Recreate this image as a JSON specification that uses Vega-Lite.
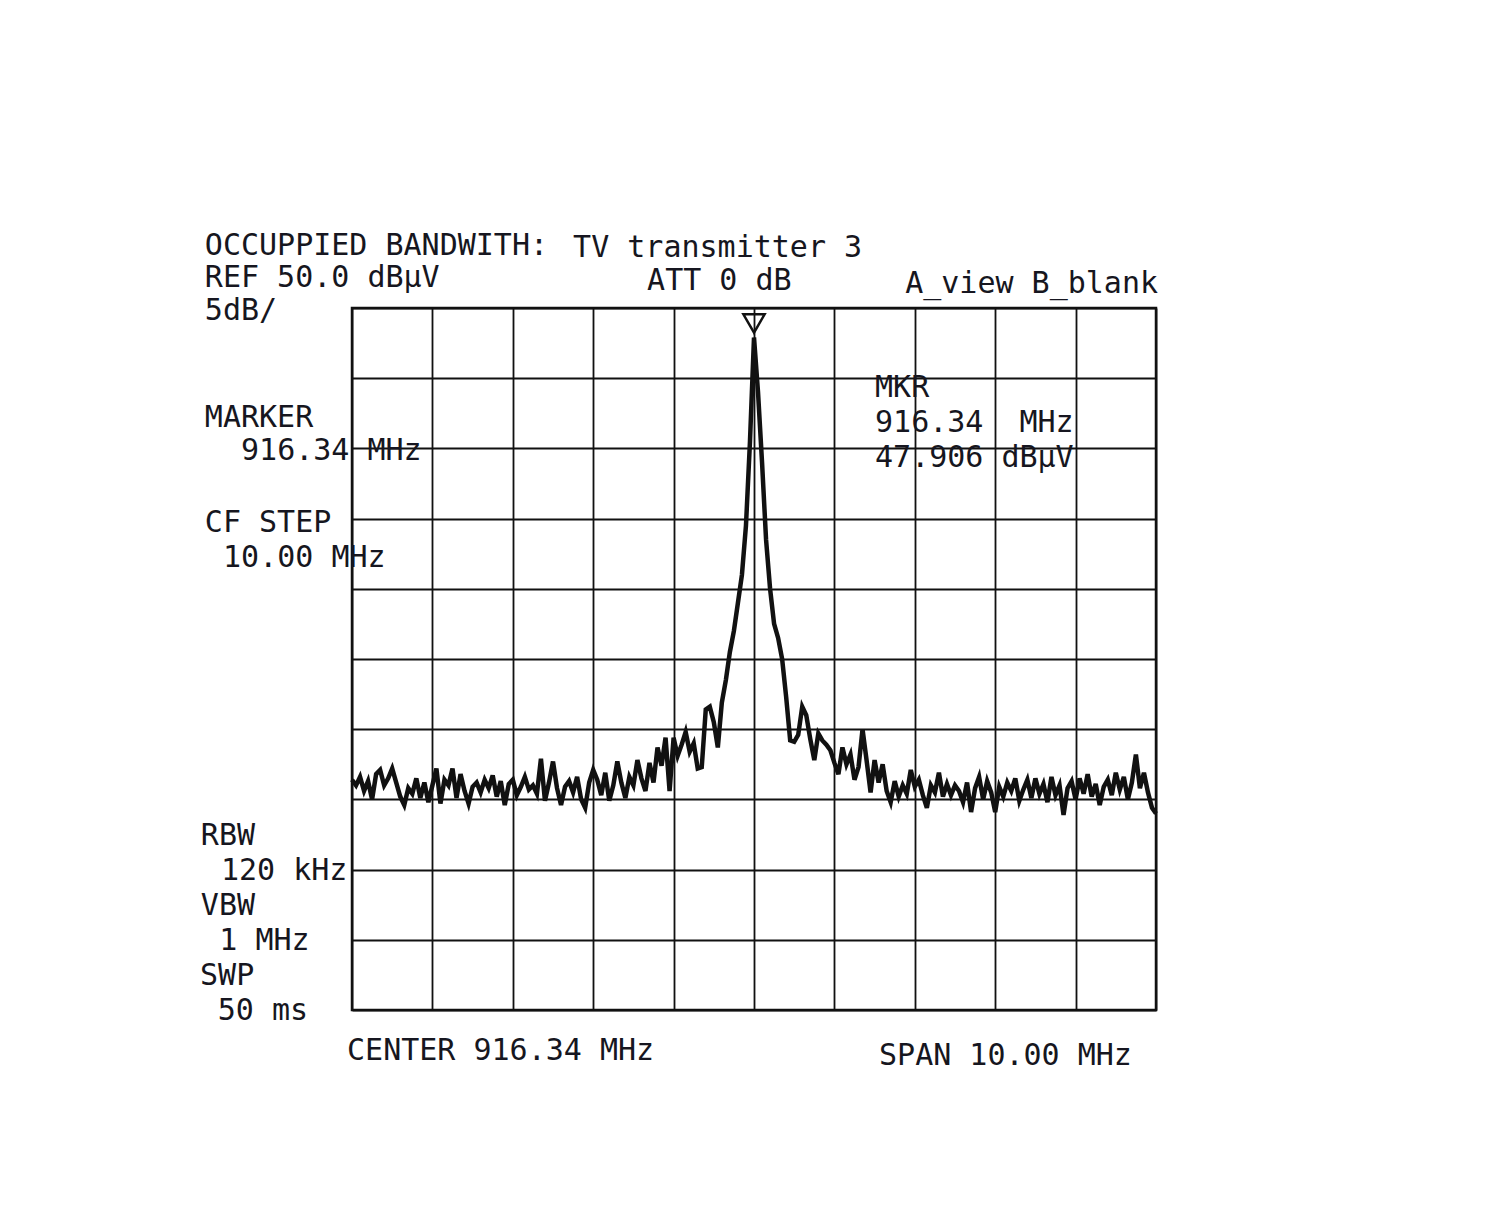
{
  "$schema": "https://vega.github.io/schema/vega-lite/v6.json",
  "width": 804,
  "height": 702,
  "autosize": {"type": "none"},
  "padding": {"left": 352, "top": 308, "right": 333, "bottom": 217},
  "background": "white",
  "config": {
    "view": {"stroke": "#111", "strokeWidth": 2.5},
    "axis": {"grid": true, "gridColor": "#111", "gridWidth": 1.8, "gridOpacity": 1, "labels": false, "ticks": false, "domain": false, "title": null}
  },
  "datasets": {
    "trace": [
      {"f":911.34,"db":16.4},{"f":911.39,"db":16.0},{"f":911.44,"db":16.6},{"f":911.49,"db":15.6},{"f":911.54,"db":16.3},
      {"f":911.59,"db":15.0},{"f":911.64,"db":16.8},{"f":911.69,"db":17.1},{"f":911.74,"db":16.0},{"f":911.79,"db":16.5},
      {"f":911.84,"db":17.2},{"f":911.89,"db":16.2},{"f":911.94,"db":15.2},{"f":911.99,"db":14.6},{"f":912.04,"db":15.8},
      {"f":912.09,"db":15.4},{"f":912.14,"db":16.5},{"f":912.19,"db":15.1},{"f":912.24,"db":16.2},{"f":912.29,"db":14.8},
      {"f":912.34,"db":16.0},{"f":912.39,"db":17.2},{"f":912.44,"db":14.7},{"f":912.49,"db":16.4},{"f":912.54,"db":16.0},
      {"f":912.59,"db":17.2},{"f":912.64,"db":15.1},{"f":912.69,"db":16.8},{"f":912.74,"db":15.6},{"f":912.79,"db":14.7},
      {"f":912.84,"db":15.9},{"f":912.89,"db":16.2},{"f":912.94,"db":15.5},{"f":912.99,"db":16.4},{"f":913.04,"db":15.8},
      {"f":913.09,"db":16.7},{"f":913.14,"db":15.2},{"f":913.19,"db":16.3},{"f":913.24,"db":14.6},{"f":913.29,"db":16.1},
      {"f":913.34,"db":16.4},{"f":913.39,"db":15.3},{"f":913.44,"db":15.9},{"f":913.49,"db":16.6},{"f":913.54,"db":15.7},
      {"f":913.59,"db":16.0},{"f":913.64,"db":15.4},{"f":913.69,"db":17.9},{"f":913.74,"db":14.9},{"f":913.79,"db":16.2},
      {"f":913.84,"db":17.7},{"f":913.89,"db":15.8},{"f":913.94,"db":14.6},{"f":913.99,"db":15.9},{"f":914.04,"db":16.3},
      {"f":914.09,"db":15.5},{"f":914.14,"db":16.6},{"f":914.19,"db":15.0},{"f":914.24,"db":14.4},{"f":914.29,"db":16.2},
      {"f":914.34,"db":17.1},{"f":914.39,"db":16.4},{"f":914.44,"db":15.3},{"f":914.49,"db":16.9},{"f":914.54,"db":14.9},
      {"f":914.59,"db":16.0},{"f":914.64,"db":17.7},{"f":914.69,"db":16.2},{"f":914.74,"db":15.1},{"f":914.79,"db":16.6},
      {"f":914.84,"db":16.0},{"f":914.89,"db":17.8},{"f":914.94,"db":16.5},{"f":914.99,"db":15.6},{"f":915.04,"db":17.6},
      {"f":915.09,"db":16.2},{"f":915.14,"db":18.7},{"f":915.19,"db":17.4},{"f":915.24,"db":19.4},{"f":915.29,"db":15.6},
      {"f":915.34,"db":19.4},{"f":915.39,"db":18.1},{"f":915.44,"db":18.9},{"f":915.49,"db":19.8},{"f":915.54,"db":18.4},
      {"f":915.59,"db":19.0},{"f":915.64,"db":17.2},{"f":915.69,"db":17.3},{"f":915.74,"db":21.4},{"f":915.79,"db":21.6},
      {"f":915.84,"db":20.5},{"f":915.89,"db":18.7},{"f":915.94,"db":21.9},{"f":915.99,"db":23.5},{"f":916.04,"db":25.5},
      {"f":916.09,"db":27.0},{"f":916.14,"db":29.0},{"f":916.19,"db":31.0},{"f":916.24,"db":34.5},{"f":916.29,"db":40.5},
      {"f":916.34,"db":47.9},{"f":916.39,"db":44.0},{"f":916.44,"db":39.0},{"f":916.49,"db":33.5},{"f":916.54,"db":30.0},
      {"f":916.59,"db":27.5},{"f":916.64,"db":26.5},{"f":916.69,"db":25.0},{"f":916.74,"db":22.3},{"f":916.79,"db":19.2},
      {"f":916.84,"db":19.1},{"f":916.89,"db":19.6},{"f":916.94,"db":21.6},{"f":916.99,"db":21.0},{"f":917.04,"db":19.3},
      {"f":917.09,"db":17.8},{"f":917.14,"db":19.7},{"f":917.19,"db":19.2},{"f":917.24,"db":18.9},{"f":917.29,"db":18.5},
      {"f":917.34,"db":17.6},{"f":917.39,"db":16.8},{"f":917.44,"db":18.7},{"f":917.49,"db":17.5},{"f":917.54,"db":18.2},
      {"f":917.59,"db":16.4},{"f":917.64,"db":17.3},{"f":917.69,"db":20.0},{"f":917.74,"db":17.8},{"f":917.79,"db":15.5},
      {"f":917.84,"db":17.8},{"f":917.89,"db":16.2},{"f":917.94,"db":17.5},{"f":917.99,"db":15.6},{"f":918.04,"db":14.8},
      {"f":918.09,"db":16.3},{"f":918.14,"db":15.2},{"f":918.19,"db":16.0},{"f":918.24,"db":15.4},{"f":918.29,"db":17.1},
      {"f":918.34,"db":15.9},{"f":918.39,"db":16.4},{"f":918.44,"db":15.3},{"f":918.49,"db":14.4},{"f":918.54,"db":16.0},
      {"f":918.59,"db":15.5},{"f":918.64,"db":16.9},{"f":918.69,"db":15.2},{"f":918.74,"db":16.1},{"f":918.79,"db":15.3},
      {"f":918.84,"db":16.0},{"f":918.89,"db":15.6},{"f":918.94,"db":14.8},{"f":918.99,"db":16.2},{"f":919.04,"db":14.1},
      {"f":919.09,"db":15.8},{"f":919.14,"db":16.6},{"f":919.19,"db":15.0},{"f":919.24,"db":16.3},{"f":919.29,"db":15.5},
      {"f":919.34,"db":14.1},{"f":919.39,"db":15.9},{"f":919.44,"db":15.2},{"f":919.49,"db":16.2},{"f":919.54,"db":15.6},
      {"f":919.59,"db":16.5},{"f":919.64,"db":14.9},{"f":919.69,"db":15.7},{"f":919.74,"db":16.4},{"f":919.79,"db":15.1},
      {"f":919.84,"db":16.5},{"f":919.89,"db":15.4},{"f":919.94,"db":16.1},{"f":919.99,"db":14.8},{"f":920.04,"db":16.6},
      {"f":920.09,"db":15.3},{"f":920.14,"db":16.0},{"f":920.19,"db":13.9},{"f":920.24,"db":15.8},{"f":920.29,"db":16.3},
      {"f":920.34,"db":15.0},{"f":920.39,"db":16.5},{"f":920.44,"db":15.4},{"f":920.49,"db":16.8},{"f":920.54,"db":15.2},
      {"f":920.59,"db":16.1},{"f":920.64,"db":14.6},{"f":920.69,"db":15.9},{"f":920.74,"db":16.4},{"f":920.79,"db":15.3},
      {"f":920.84,"db":16.9},{"f":920.89,"db":15.7},{"f":920.94,"db":16.6},{"f":920.99,"db":15.0},{"f":921.04,"db":16.2},
      {"f":921.09,"db":18.2},{"f":921.14,"db":15.8},{"f":921.19,"db":16.9},{"f":921.24,"db":15.5},{"f":921.29,"db":14.4},
      {"f":921.34,"db":14.0}
    ],
    "labels": [
      {"f":909.51,"db":53.78,"label":"OCCUPPIED BANDWITH:"},
      {"f":914.09,"db":53.65,"label":"TV transmitter 3"},
      {"f":909.51,"db":51.50,"label":"REF 50.0 dBµV"},
      {"f":915.01,"db":51.28,"label":"ATT 0 dB"},
      {"f":918.22,"db":51.07,"label":"A_view B_blank"},
      {"f":909.51,"db":49.15,"label":"5dB/"},
      {"f":909.51,"db":41.52,"label":"MARKER"},
      {"f":909.96,"db":39.17,"label":"916.34 MHz"},
      {"f":909.51,"db":34.05,"label":"CF STEP"},
      {"f":909.736,"db":31.55,"label":"10.00 MHz"},
      {"f":917.845,"db":43.66,"label":"MKR"},
      {"f":917.845,"db":41.17,"label":"916.34\u00a0\u00a0MHz"},
      {"f":917.845,"db":38.68,"label":"47.906 dBµV"},
      {"f":909.46,"db":11.75,"label":"RBW"},
      {"f":909.71,"db":9.26,"label":"120 kHz"},
      {"f":909.46,"db":6.76,"label":"VBW"},
      {"f":909.69,"db":4.27,"label":"1 MHz"},
      {"f":909.45,"db":1.78,"label":"SWP"},
      {"f":909.67,"db":-0.71,"label":"50 ms"},
      {"f":911.278,"db":-3.56,"label":"CENTER 916.34 MHz"},
      {"f":917.895,"db":-3.92,"label":"SPAN 10.00 MHz"}
    ],
    "marker": [{"f":916.34,"db":48.9}]
  },
  "layer": [
    {
      "data": {"name": "trace"},
      "mark": {"type": "line", "color": "#111", "strokeWidth": 4.5, "strokeJoin": "miter", "interpolate": "linear"},
      "encoding": {
        "x": {"field": "f", "type": "quantitative", "scale": {"domain": [911.34, 921.34], "nice": false, "zero": false},
          "axis": {"values": [911.34, 912.34, 913.34, 914.34, 915.34, 916.34, 917.34, 918.34, 919.34, 920.34, 921.34]}},
        "y": {"field": "db", "type": "quantitative", "scale": {"domain": [0, 50], "nice": false, "zero": false},
          "axis": {"values": [0, 5, 10, 15, 20, 25, 30, 35, 40, 45, 50]}}
      }
    },
    {
      "data": {"name": "marker"},
      "mark": {"type": "point", "shape": "triangle-down", "filled": false, "stroke": "#111", "strokeWidth": 2.5, "opacity": 1, "size": 450},
      "encoding": {
        "x": {"field": "f", "type": "quantitative"},
        "y": {"field": "db", "type": "quantitative"}
      }
    },
    {
      "data": {"name": "labels"},
      "mark": {"type": "text", "align": "left", "baseline": "alphabetic", "font": "DejaVu Sans Mono", "fontSize": 30, "color": "#161620"},
      "encoding": {
        "x": {"field": "f", "type": "quantitative"},
        "y": {"field": "db", "type": "quantitative"},
        "text": {"field": "label"}
      }
    }
  ]
}
